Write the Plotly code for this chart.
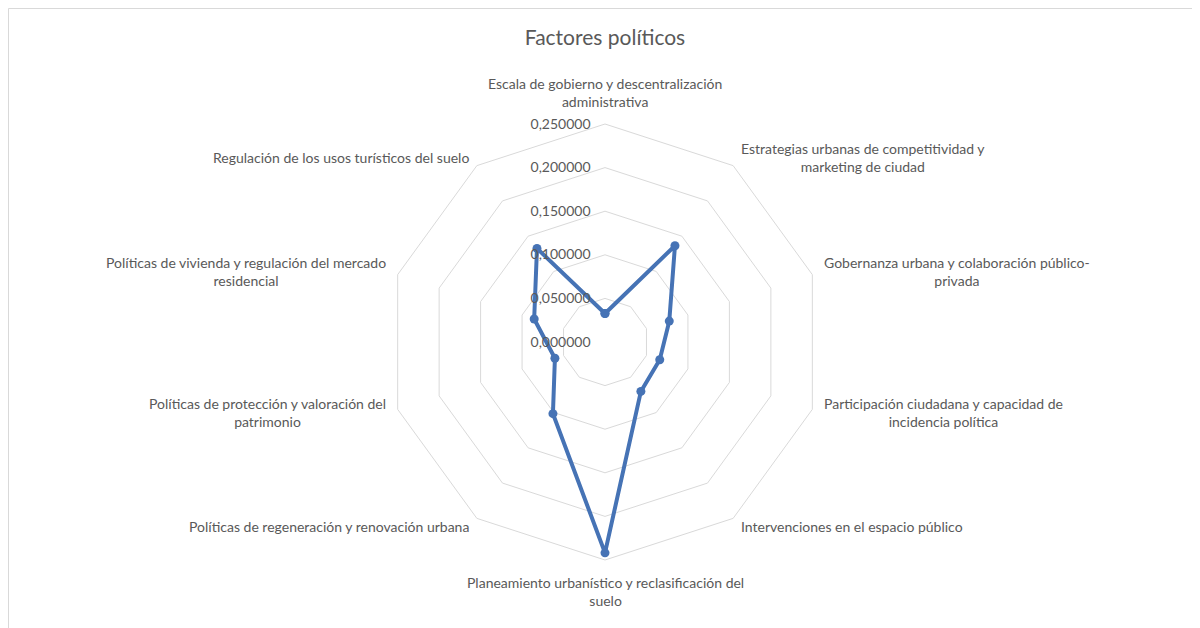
import math
import plotly.graph_objects as go

categories = [
    "Escala de gobierno y descentralización<br>administrativa",
    "Estrategias urbanas de competitividad y<br>marketing de ciudad",
    "Gobernanza urbana y colaboración público-<br>privada",
    "Participación ciudadana y capacidad de<br>incidencia política",
    "Intervenciones en el espacio público",
    "Planeamiento urbanístico y reclasificación del<br>suelo",
    "Políticas de regeneración y renovación urbana",
    "Políticas de protección y valoración del<br>patrimonio",
    "Políticas de vivienda y regulación del mercado<br>residencial",
    "Regulación de los usos turísticos del suelo",
]
values = [0.0327, 0.1365, 0.0775, 0.0660, 0.0700, 0.2418, 0.1016, 0.0604, 0.0854, 0.1327]
radial_ticks = [0, 0.05, 0.10, 0.15, 0.20, 0.25]

FONT = "Lato"
GRAY_TXT = "#595959"
GRID = "#d9d9d9"
BLUE = "#4673b5"

# page has an 8px body margin, so the figure is drawn 8px in from the window edge
W, H = 1192, 620
cx, cy, R = 597, 334, 218

fig = go.Figure()
fig.add_trace(go.Scatterpolar(
    r=values + values[:1],
    theta=categories + categories[:1],
    mode="lines+markers",
    line=dict(color=BLUE, width=4),
    marker=dict(color=BLUE, size=9),
    showlegend=False,
))

annotations = []
n = len(categories)
for i, lab in enumerate(categories):
    th = math.radians(360 * i / n)
    s, c = math.sin(th), math.cos(th)
    if abs(s) > 0.1:
        rr = R + 10
        xa = "left" if s > 0 else "right"
        ya = "middle"
    else:
        rr = R + 12
        xa = "center"
        ya = "bottom" if c > 0 else "top"
    px = cx + rr * s
    py = cy - rr * c
    annotations.append(dict(
        text=lab, x=px / W, y=1 - py / H, xref="paper", yref="paper",
        xanchor=xa, yanchor=ya, align="center", showarrow=False,
        font=dict(family=FONT, size=14, color=GRAY_TXT),
    ))

fig.update_layout(
    width=W, height=H,
    margin=dict(l=0, r=0, t=0, b=0),
    paper_bgcolor="white",
    separators=",.",
    font=dict(family=FONT, color=GRAY_TXT, size=14),
    title=dict(text="Factores políticos", x=cx / W, xanchor="center", y=1 - 30 / H, yanchor="middle",
               font=dict(family=FONT, size=21, color=GRAY_TXT)),
    polar=dict(
        domain=dict(x=[(cx - R) / W, (cx + R) / W], y=[(H - cy - R) / H, (H - cy + R) / H]),
        gridshape="linear",
        bgcolor="white",
        radialaxis=dict(
            range=[0, 0.25], tickvals=radial_ticks, tickformat=".6f",
            angle=90, tickangle=90, side="counterclockwise",
            showline=False, ticks="outside", ticklen=9, tickcolor="rgba(0,0,0,0)",
            gridcolor=GRID, gridwidth=1,
            tickfont=dict(family=FONT, size=14, color=GRAY_TXT),
        ),
        angularaxis=dict(
            direction="clockwise", rotation=90,
            showgrid=False, showline=True, linecolor=GRID, linewidth=1,
            ticks="", showticklabels=False,
        ),
    ),
    annotations=annotations,
    shapes=[dict(type="rect", xref="paper", yref="paper",
                 x0=0.5 / W, x1=1.02, y0=-0.02, y1=1 - 0.5 / H,
                 line=dict(color="#d9d9d9", width=1), fillcolor="rgba(0,0,0,0)")],
)

fig.write_html("out.html")
